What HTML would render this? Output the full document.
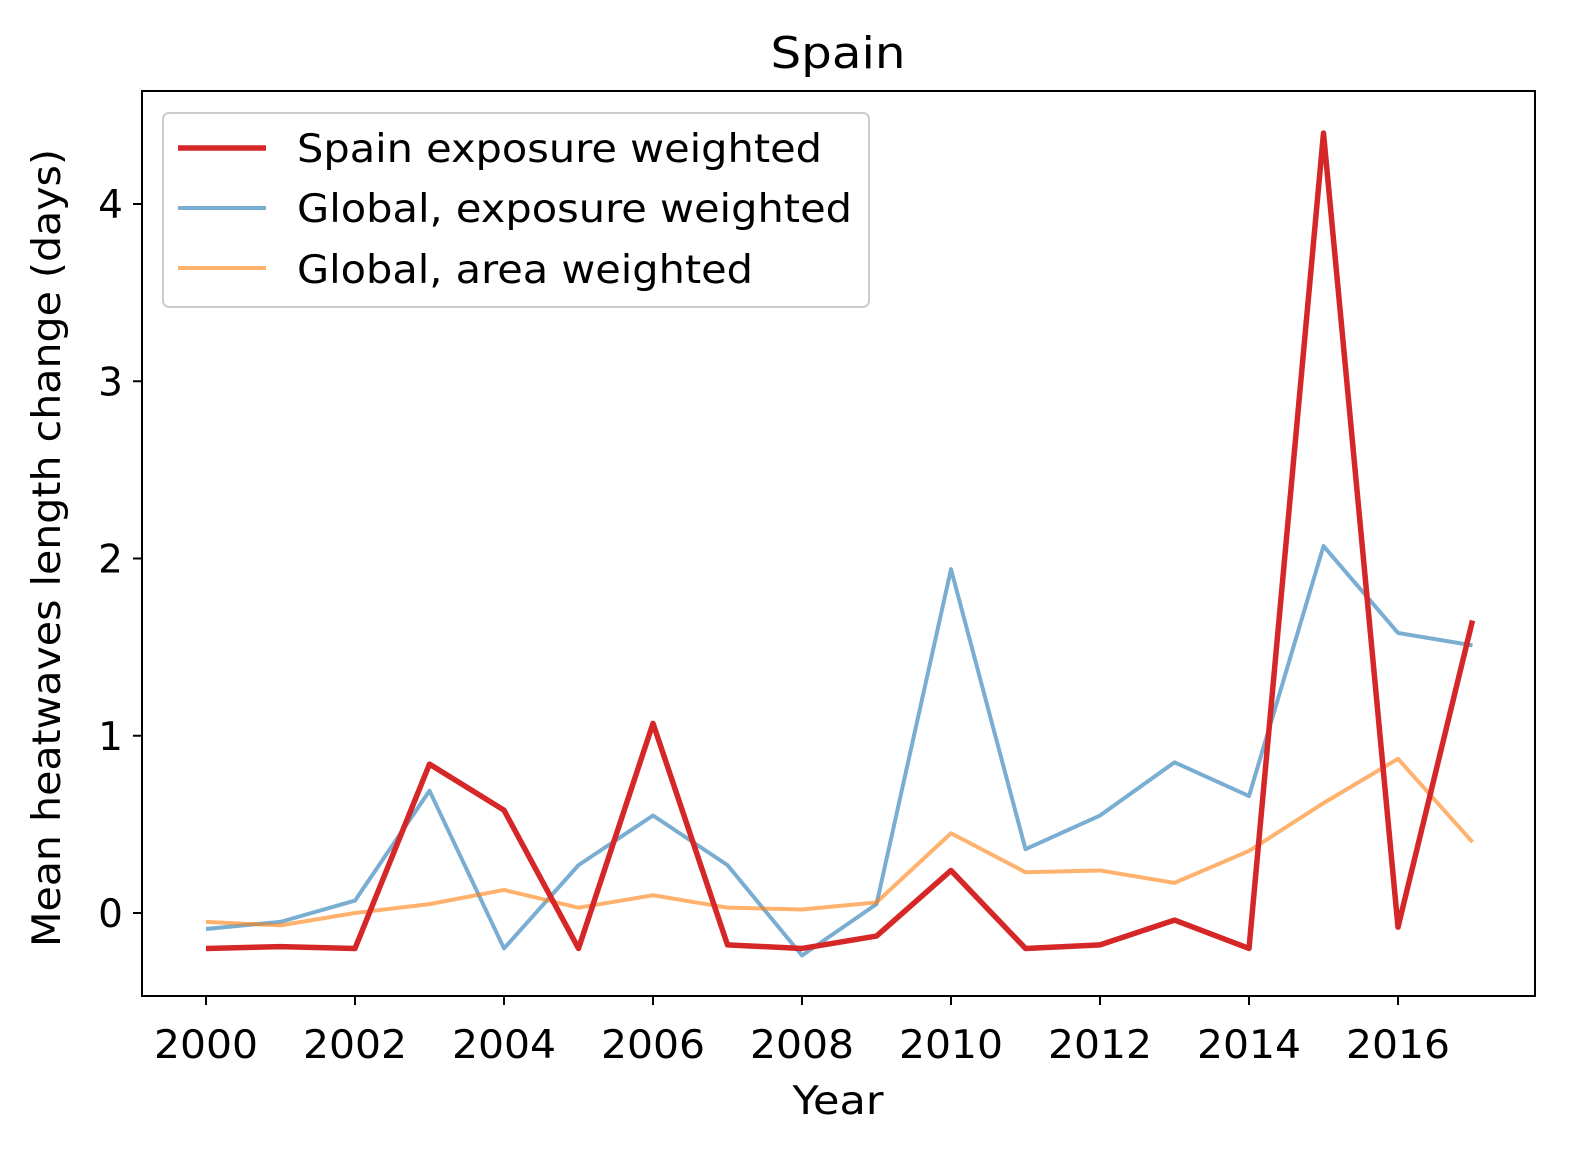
<!DOCTYPE html>
<html><head><meta charset="utf-8"><style>
body{margin:0;background:#fff}
svg text{font-family:"DejaVu Sans","Liberation Sans",sans-serif;fill:#000}
</style></head><body>
<svg id="chart" width="1570" height="1154" viewBox="0 0 1570 1154" xmlns="http://www.w3.org/2000/svg" style="position:absolute;left:0;top:0"></svg>
<script>
const years=[2000,2001,2002,2003,2004,2005,2006,2007,2008,2009,2010,2011,2012,2013,2014,2015,2016,2017];
const spainExposure=[-0.2,-0.19,-0.2,0.84,0.58,-0.2,1.07,-0.18,-0.2,-0.13,0.24,-0.2,-0.18,-0.04,-0.2,4.4,-0.08,1.65];
const globalExposure=[-0.09,-0.05,0.07,0.69,-0.2,0.27,0.55,0.27,-0.24,0.05,1.94,0.36,0.55,0.85,0.66,2.07,1.58,1.51];
const globalArea=[-0.05,-0.07,0.0,0.05,0.13,0.03,0.1,0.03,0.02,0.06,0.45,0.23,0.24,0.17,0.35,0.62,0.87,0.4];
const xTicks=[2000,2002,2004,2006,2008,2010,2012,2014,2016];
const yTicks=[0,1,2,3,4];

const svg=document.getElementById('chart');
const NS='http://www.w3.org/2000/svg';
const L=142,R=1535,T=91,B=996;
const xs=v=>206+(v-2000)*74.5;
const ys=v=>913-v*177.25;
function mk(tag,attrs,parent){const e=document.createElementNS(NS,tag);for(const k in attrs)e.setAttribute(k,attrs[k]);(parent||svg).appendChild(e);return e;}

function series(vals,color,w,op,name){
  const p=mk('polyline',{points:vals.map((v,i)=>xs(years[i])+','+ys(v)).join(' '),fill:'none',stroke:color,'stroke-width':w,'stroke-opacity':op,'stroke-linejoin':'round'});
  
  
}
series(globalExposure,'#1f77b4',4,0.6,'global-exposure-line');
series(globalArea,'#ff7f0e',4,0.6,'global-area-line');
series(spainExposure,'#d62728',5.5,1,'spain-exposure-line');

const frame=mk('rect',{x:L,y:T,width:R-L,height:B-T,fill:'none',stroke:'#000','stroke-width':2});



xTicks.forEach(t=>{
  const x=xs(t);
  mk('line',{x1:x,y1:B,x2:x,y2:B+9,stroke:'#000','stroke-width':2});
  const tx=mk('text',{x:x,y:B+62,'font-size':39,'text-anchor':'middle',textLength:104,lengthAdjust:'spacingAndGlyphs'});tx.textContent=t;
  
  
});
yTicks.forEach(t=>{
  const y=ys(t);
  mk('line',{x1:L,y1:y,x2:L-9,y2:y,stroke:'#000','stroke-width':2});
  const tx=mk('text',{x:L-19,y:y+14,'font-size':39,'text-anchor':'end'});tx.textContent=t;
  
  
});
</script>
<svg width="1570" height="1154" viewBox="0 0 1570 1154" xmlns="http://www.w3.org/2000/svg" style="position:absolute;left:0;top:0">
<text x="838" y="68" font-size="44" text-anchor="middle" textLength="135" lengthAdjust="spacingAndGlyphs">Spain</text>
<text x="838" y="1114" font-size="39" text-anchor="middle" textLength="91" lengthAdjust="spacingAndGlyphs">Year</text>
<text transform="translate(60,548) rotate(-90)" font-size="39" text-anchor="middle" textLength="798" lengthAdjust="spacingAndGlyphs">Mean heatwaves length change (days)</text>
<g>
<rect x="163" y="113" width="706" height="194" rx="6" fill="#fff" fill-opacity="0.8" stroke="#ccc" stroke-width="2"/>
<line x1="178" y1="148" x2="266" y2="148" stroke="#d62728" stroke-width="5.5"/>
<text x="297" y="162" font-size="39" textLength="525" lengthAdjust="spacingAndGlyphs">Spain exposure weighted</text>
<line x1="178" y1="208" x2="266" y2="208" stroke="#1f77b4" stroke-opacity="0.6" stroke-width="4"/>
<text x="297" y="222" font-size="39" textLength="555" lengthAdjust="spacingAndGlyphs">Global, exposure weighted</text>
<line x1="178" y1="268" x2="266" y2="268" stroke="#ff7f0e" stroke-opacity="0.6" stroke-width="4"/>
<text x="297" y="283" font-size="39" textLength="456" lengthAdjust="spacingAndGlyphs">Global, area weighted</text>
</g>
</svg>
</body></html>
